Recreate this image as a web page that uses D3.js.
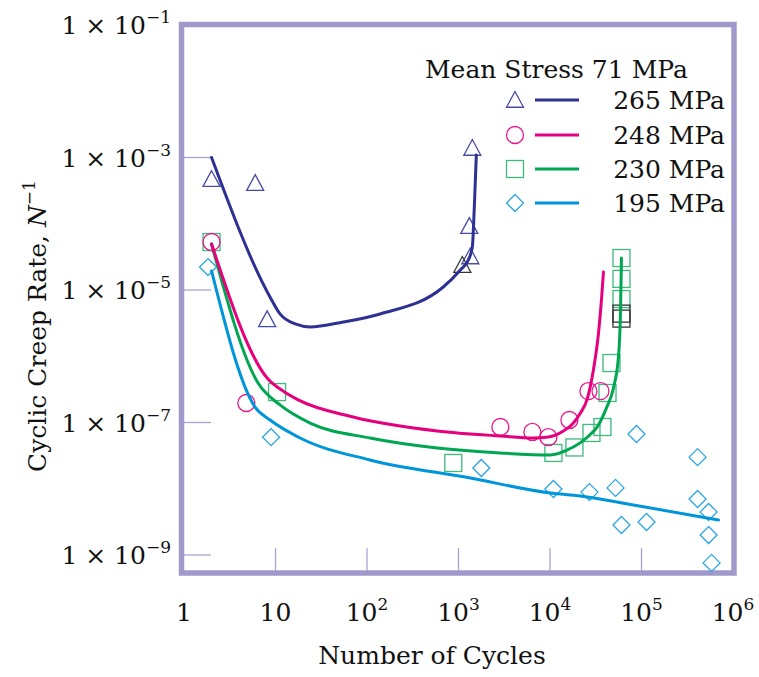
<!DOCTYPE html>
<html>
<head>
<meta charset="utf-8">
<script src="https://cdn.jsdelivr.net/npm/d3@7"></script>
<style>
  html, body { margin: 0; padding: 0; background: #fff; }
  svg { display: block; font-family: "DejaVu Serif", serif; }
</style>
</head>
<body>
<svg id="chart" width="759" height="677"></svg>
<script>
// ---- data: [number of cycles, cyclic creep rate] ----
const legendTitle = "Mean Stress 71 MPa";
const stressLabels = ["265 MPa", "248 MPa", "230 MPa", "195 MPa"];
const seriesColors = ["#2e3192", "#e6007e", "#00a651", "#0095da"];
const markerColors = ["#474aa6", "#e8198b", "#3dba7c", "#2aa6e0"];
const markerShapes = ["triangle", "circle", "square", "diamond"];

const points265 = [[2, 4.7e-4], [6, 4.1e-4], [8.1, 3.6e-6], [1416, 1.39e-3], [1313, 9.2e-5], [1346, 3.2e-5]];
const points248 = [[2, 5.3e-5], [4.8, 1.97e-7], [2866, 8.55e-8], [6416, 7.2e-8], [9600, 6.0e-8],
                   [16300, 1.09e-7], [26300, 2.98e-7], [35600, 2.98e-7]];
const points230 = [[2, 5.3e-5], [10.4, 2.88e-7], [877, 2.45e-8], [10900, 3.47e-8], [18500, 4.2e-8],
                   [28400, 6.95e-8], [37400, 8.55e-8], [42500, 2.79e-7], [47000, 7.9e-7],
                   [60400, 3.04e-5], [60400, 1.47e-5], [60400, 7.3e-6]];
const points195 = [[1.83, 2.22e-5], [8.95, 6.0e-8], [1775, 2.06e-8], [10900, 9.9e-9], [27000, 8.9e-9],
                   [52000, 1.03e-8], [88200, 6.7e-8], [60400, 2.84e-9], [113500, 3.15e-9],
                   [410000, 3.0e-8], [410000, 7.0e-9], [541000, 4.46e-9], [541000, 2.0e-9],
                   [583000, 7.6e-10]];
// specimens shown with dark outlines
const darkTriangles = [[1101, 2.38e-5]];
const darkSquares = [[60400, 4.4e-6], [60400, 3.7e-6]];

const curve265 = [[2, 1.0e-3], [8.73, 7.8e-6], [11.2, 4.35e-6], [16.4, 3.07e-6], [23.9, 2.77e-6],
                  [54.9, 3.29e-6], [139, 4.35e-6], [682, 1.11e-5], [1047, 2.0e-5], [1280, 2.84e-5],
                  [1416, 4.46e-5], [1489, 1.79e-4], [1566, 1.09e-3]];
const curve248 = [[2, 4.94e-5], [8.1, 4.7e-7], [12.1, 2.98e-7], [17.7, 2.19e-7], [70.6, 1.21e-7],
                  [586, 7.45e-8], [2866, 6.25e-8], [6580, 5.83e-8], [9600, 6.04e-8], [14000, 7.45e-8],
                  [17600, 9.5e-8], [21500, 1.39e-7], [25700, 2.34e-7], [29800, 6.2e-7],
                  [33900, 2.24e-6], [36500, 7.06e-6], [38400, 1.87e-5]];
const curve230 = [[2, 4.94e-5], [6.45, 3.94e-7], [11.2, 1.84e-7], [23.9, 9.8e-8], [108, 5.83e-8],
                  [586, 4.12e-8], [2866, 3.47e-8], [10100, 3.23e-8], [15500, 3.85e-8],
                  [25700, 6.04e-8], [33900, 9.2e-8], [41400, 1.66e-7], [49400, 3.32e-7],
                  [56000, 9.75e-7], [58900, 4.5e-6], [60400, 3.04e-5]];
const curve195 = [[2, 1.94e-5], [5.98, 1.71e-7], [8.73, 1.09e-7], [18.6, 5.83e-8], [108, 2.72e-8],
                  [1346, 1.45e-8], [10100, 8.63e-9], [21500, 7.78e-9], [81700, 5.69e-9],
                  [695000, 3.37e-9]];

const xTickValues = [1, 10, 100, 1e3, 1e4, 1e5, 1e6];
const xTickLabels = [["1", ""], ["10", ""], ["10", "2"], ["10", "3"], ["10", "4"], ["10", "5"], ["10", "6"]];
const yTickValues = [1e-1, 1e-3, 1e-5, 1e-7, 1e-9];
const yTickExponents = ["\u22121", "\u22123", "\u22125", "\u22127", "\u22129"];

const pointSets = [points265, points248, points230, points195];
const curveSets = [curve265, curve248, curve230, curve195];

// ---- scales ----
const svg = d3.select("#chart");
const x = d3.scaleLog().domain([1, 1e6]).range([184, 733]);
const y = d3.scaleLog().domain([1e-9, 1e-1]).range([555, 25]);
const frameBottom = 573;

const frameColor = "#a099cc";
const tickColor = "#aaa4d2";
const fontSize = 25;
const supSize = 17;

// inner tick marks
svg.append("g").selectAll("line").data(yTickValues.filter(v => v < 1e-1)).join("line")
  .attr("x1", x(1)).attr("x2", x(1) + 27)
  .attr("y1", d => y(d)).attr("y2", d => y(d))
  .attr("stroke", tickColor).attr("stroke-width", 1.3);
svg.append("g").selectAll("line").data(xTickValues.filter(v => v > 1 && v < 1e6)).join("line")
  .attr("x1", d => x(d)).attr("x2", d => x(d))
  .attr("y1", frameBottom - 25).attr("y2", frameBottom)
  .attr("stroke", tickColor).attr("stroke-width", 1.3);

// frame
svg.append("rect")
  .attr("x", 181.5).attr("y", 24.5)
  .attr("width", 734 - 181.5).attr("height", frameBottom - 24.5)
  .attr("fill", "none").attr("stroke", frameColor).attr("stroke-width", 5.5);

// y tick labels: 1 × 10^n
const yLab = svg.append("g").selectAll("text").data(yTickValues).join("text")
  .attr("x", 171).attr("y", d => y(d) + 9)
  .attr("text-anchor", "end").attr("font-size", fontSize).attr("fill", "#111");
yLab.append("tspan").text("1 \u00d7 10");
yLab.append("tspan").attr("dy", -11).attr("font-size", supSize).text((d, i) => yTickExponents[i]);

// x tick labels
const xLab = svg.append("g").selectAll("text").data(xTickValues).join("text")
  .attr("x", d => x(d)).attr("y", 621)
  .attr("text-anchor", "middle").attr("font-size", fontSize).attr("fill", "#111");
xLab.append("tspan").text((d, i) => xTickLabels[i][0]);
xLab.append("tspan").attr("dy", -11).attr("font-size", supSize).text((d, i) => xTickLabels[i][1]);

// axis titles
svg.append("text").attr("x", 432).attr("y", 664).attr("text-anchor", "middle")
  .attr("font-size", fontSize).attr("fill", "#111").text("Number of Cycles");
const yTitle = svg.append("text")
  .attr("transform", "translate(46,326) rotate(-90)")
  .attr("text-anchor", "middle").attr("font-size", fontSize).attr("fill", "#111");
yTitle.append("tspan").text("Cyclic Creep Rate, ");
yTitle.append("tspan").attr("font-style", "italic").text("N");
yTitle.append("tspan").attr("dy", -11).attr("font-size", supSize).text("\u22121");

// marker drawing
const size = 17;
function drawMarker(g, shape, cx, cy, color, s) {
  s = s || size;
  const h = s / 2;
  let el;
  if (shape === "triangle") {
    el = g.append("path").attr("d",
      `M${cx},${cy - h}L${cx + h},${cy + h * 0.85}L${cx - h},${cy + h * 0.85}Z`);
  } else if (shape === "circle") {
    el = g.append("circle").attr("cx", cx).attr("cy", cy).attr("r", h);
  } else if (shape === "square") {
    el = g.append("rect").attr("x", cx - h).attr("y", cy - h).attr("width", s).attr("height", s);
  } else {
    el = g.append("path").attr("d",
      `M${cx},${cy - h}L${cx + h},${cy}L${cx},${cy + h}L${cx - h},${cy}Z`);
  }
  el.attr("fill", "none").attr("stroke", color).attr("stroke-width", 1.3);
}

const markers = svg.append("g");
// draw the lower-stress series first so 265/248 symbols sit on top
[2, 3, 0, 1].forEach(i => {
  pointSets[i].forEach(p => drawMarker(markers, markerShapes[i], x(p[0]), y(p[1]), markerColors[i]));
});
darkTriangles.forEach(p => drawMarker(markers, "triangle", x(p[0]), y(p[1]), "#333"));
darkSquares.forEach(p => drawMarker(markers, "square", x(p[0]), y(p[1]), "#333"));

// fitted curves
const line = d3.line().x(d => x(d[0])).y(d => y(d[1])).curve(d3.curveMonotoneX);
svg.append("g").selectAll("path").data([3, 2, 1, 0]).join("path")
  .attr("d", i => line(curveSets[i]))
  .attr("fill", "none").attr("stroke", i => seriesColors[i]).attr("stroke-width", 3)
  .attr("stroke-linejoin", "round").attr("stroke-linecap", "round");

// legend
const legend = svg.append("g");
legend.append("text").attr("x", 425).attr("y", 78).attr("font-size", fontSize).attr("fill", "#111")
  .text(legendTitle);
const rowY = [100, 135, 169, 203];
stressLabels.forEach((lab, i) => {
  drawMarker(legend, markerShapes[i], 515, rowY[i], markerColors[i]);
  legend.append("line").attr("x1", 535).attr("x2", 579).attr("y1", rowY[i]).attr("y2", rowY[i])
    .attr("stroke", seriesColors[i]).attr("stroke-width", 3);
  legend.append("text").attr("x", 725).attr("y", rowY[i] + 9).attr("text-anchor", "end")
    .attr("font-size", fontSize).attr("fill", "#111").text(lab);
});
</script>
</body>
</html>
